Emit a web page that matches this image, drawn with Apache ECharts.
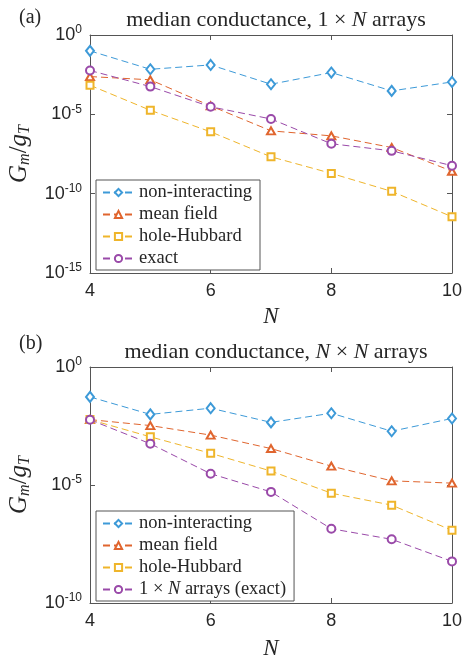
<!DOCTYPE html>
<html>
<head>
<meta charset="utf-8">
<script src="https://cdn.jsdelivr.net/npm/echarts@6/dist/echarts.min.js"></script>
<style>html,body{margin:0;padding:0;background:#fff}#c{width:466px;height:655px}</style>
</head>
<body>
<div id="c"></div>
<script>
// ---- data ----
const N = [4, 5, 6, 7, 8, 9, 10];
const xTicks = [4, 6, 8, 10];
// (a) 1 x N arrays
const a_nonInteracting = [1.0e-1, 6.9e-3, 1.3e-2, 7.9e-4, 4.3e-3, 3.0e-4, 1.1e-3];
const a_meanField      = [2.4e-3, 1.5e-3, 3.4e-5, 9.1e-7, 4.4e-7, 8.1e-8, 2.6e-9];
const a_holeHubbard    = [6.8e-4, 1.8e-5, 7.9e-7, 2.1e-8, 1.9e-9, 1.4e-10, 3.5e-12];
const a_exact          = [5.8e-3, 5.6e-4, 3.0e-5, 5.1e-6, 1.4e-7, 5.0e-8, 5.8e-9];
// (b) N x N arrays
const b_nonInteracting = [5.4e-2, 9.8e-3, 1.8e-2, 4.5e-3, 1.1e-2, 1.9e-3, 6.6e-3];
const b_meanField      = [5.9e-3, 3.3e-3, 1.3e-3, 3.5e-4, 6.3e-5, 1.5e-5, 1.2e-5];
const b_holeHubbard    = [5.9e-3, 1.1e-3, 2.2e-4, 3.9e-5, 4.5e-6, 1.4e-6, 1.2e-7];
const b_exact1xN       = [5.8e-3, 5.6e-4, 3.0e-5, 5.1e-6, 1.4e-7, 5.0e-8, 5.8e-9];
const namesA = ['non-interacting', 'mean field', 'hole-Hubbard', 'exact'];
const namesB = ['non-interacting', 'mean field', 'hole-Hubbard', '1 × N arrays (exact)'];

// ---- styles ----
const colors = ['#3d9ad8', '#e0652e', '#efb52b', '#9a4aa9'];
const symbols = ['emptyDiamond', 'emptyTriangle', 'emptyRect', 'emptyCircle'];
const symSizes = [[8, 10], [8, 7], 7, 8];
const axisColor = '#555';
const txt = '#262626';
const serif = 'Liberation Serif';
const sans = 'Liberation Sans';

const chart = echarts.init(document.getElementById('c'), null, {renderer: 'canvas'});

function pairs(vals) { return N.map((n, i) => [n, vals[i]]); }

function yLabel(v) {
  const e = Math.round(Math.log10(v));
  return '{b|10}{s|' + e + '}';
}
const yRich = {
  b: {fontFamily: sans, fontSize: 18, color: txt, lineHeight: 22},
  s: {fontFamily: sans, fontSize: 12, color: txt, verticalAlign: 'top', lineHeight: 12}
};

function makeX(gi, show, gap) {
  return {
    type: 'value', gridIndex: gi, min: 4, max: 10, interval: 2,
    position: show ? 'bottom' : 'top',
    axisLine: {show: true, onZero: false, lineStyle: {color: axisColor, width: 1}},
    axisTick: {show: true, inside: true, length: 5, lineStyle: {color: axisColor}},
    axisLabel: {show: show, fontFamily: sans, fontSize: 18, color: txt, margin: 9},
    splitLine: {show: false},
    name: show ? 'N' : '', nameLocation: 'middle', nameGap: gap,
    nameTextStyle: {fontFamily: serif, fontStyle: 'italic', fontSize: 23, color: txt}
  };
}
function makeY(gi, min, show) {
  return {
    type: 'log', logBase: 10, gridIndex: gi, min: min, max: 1, interval: 5,
    position: show ? 'left' : 'right',
    axisLine: {show: true, onZero: false, lineStyle: {color: axisColor, width: 1}},
    axisTick: {show: true, inside: true, length: 5, lineStyle: {color: axisColor}},
    minorTick: {show: false},
    axisLabel: {show: show, formatter: yLabel, rich: yRich, margin: 8},
    splitLine: {show: false},
    name: show ? '{i|G}{sub|m}{r|/}{i|g}{sub|T}' : '', nameLocation: 'middle', nameGap: 57, nameRotate: 90,
    nameTextStyle: {
      rich: {
        i: {fontFamily: serif, fontStyle: 'italic', fontSize: 25, color: txt, lineHeight: 28},
        r: {fontFamily: serif, fontSize: 25, color: txt, lineHeight: 28},
        sub: {fontFamily: serif, fontStyle: 'italic', fontSize: 16, color: txt, verticalAlign: 'bottom', lineHeight: 16}
      }
    }
  };
}

function makeSeries(names, arrays, gi) {
  return arrays.map((arr, k) => ({
    type: 'line', name: names[k], xAxisIndex: gi * 2, yAxisIndex: gi * 2,
    data: pairs(arr), symbol: symbols[k], symbolSize: symSizes[k],
    color: colors[k], showSymbol: true,
    lineStyle: {color: colors[k], width: 1, type: [7, 4]},
    itemStyle: {color: colors[k], borderWidth: 1},
    emphasis: {disabled: true}, animation: false
  }));
}

const legendRich = {
  r: {fontFamily: serif, fontSize: 18.5, color: txt},
  i: {fontFamily: serif, fontStyle: 'italic', fontSize: 18.5, color: txt}
};
function legendFmt(name) {
  if (name.indexOf('× N') >= 0) return '{r|1 × }{i|N}{r| arrays (exact)}';
  return '{r|' + name + '}';
}
function makeLegend(data, top) {
  return {
    data: data, orient: 'vertical', left: 96, top: top,
    itemWidth: 31, itemHeight: 9, itemGap: 3,
    padding: [3, 8, 2, 6],
    backgroundColor: '#fff', borderColor: axisColor, borderWidth: 1,
    textStyle: {fontFamily: serif, fontSize: 18.5, color: txt, rich: legendRich, lineHeight: 18},
    formatter: legendFmt, selectedMode: false,
    lineStyle: {type: 'inherit'}
  };
}

const titleRich = {
  r: {fontFamily: serif, fontSize: 22, fontWeight: 'normal', color: txt},
  i: {fontFamily: serif, fontStyle: 'italic', fontWeight: 'normal', fontSize: 22, color: txt}
};

const option = {
  animation: false,
  backgroundColor: '#fff',
  grid: [
    {left: 90, top: 35, width: 362, height: 238, outerBoundsMode: 'none', containLabel: false},
    {left: 90, top: 367, width: 362, height: 236, outerBoundsMode: 'none', containLabel: false}
  ],
  xAxis: [makeX(0, true, 32), makeX(0, false, 0), makeX(1, true, 34), makeX(1, false, 0)],
  yAxis: [makeY(0, 1e-15, true), makeY(0, 1e-15, false), makeY(1, 1e-10, true), makeY(1, 1e-10, false)],
  legend: [makeLegend(namesA, 180), makeLegend(namesB, 511)],
  title: [
    {text: '{r|median conductance, 1 × }{i|N}{r| arrays}', left: 271, top: 4, textAlign: 'center',
     textStyle: {fontWeight: 'normal', rich: titleRich}},
    {text: '{r|median conductance, }{i|N}{r| × }{i|N}{r| arrays}', left: 271, top: 336, textAlign: 'center',
     textStyle: {fontWeight: 'normal', rich: titleRich}},
    {text: '(a)', left: 14, top: 3, textStyle: {fontFamily: serif, fontSize: 20, fontWeight: 'normal', color: txt}},
    {text: '(b)', left: 14, top: 329, textStyle: {fontFamily: serif, fontSize: 20, fontWeight: 'normal', color: txt}}
  ],
  series: [].concat(
    makeSeries(namesA, [a_nonInteracting, a_meanField, a_holeHubbard, a_exact], 0),
    makeSeries(namesB, [b_nonInteracting, b_meanField, b_holeHubbard, b_exact1xN], 1)
  )
};
chart.setOption(option);
</script>
</body>
</html>
